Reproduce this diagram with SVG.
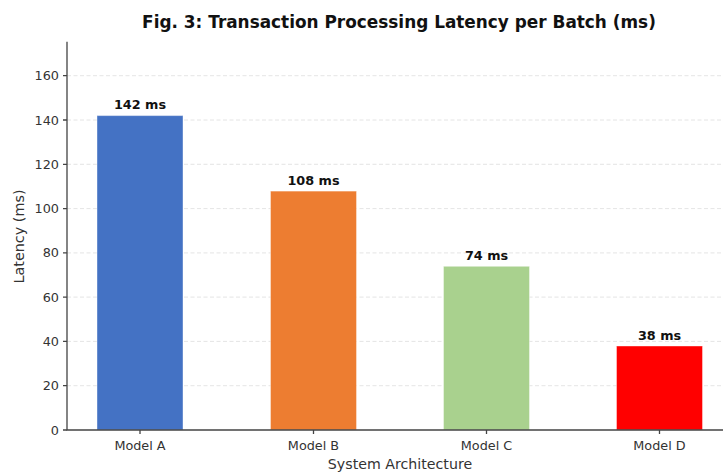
<svg xmlns="http://www.w3.org/2000/svg" width="723" height="473" viewBox="0 0 723 473">
<style>
text{font-family:"DejaVu Sans","Liberation Sans",sans-serif;fill:#222}
.tick{font-size:12.8px;fill:#333}
.val{font-size:12.8px;font-weight:bold;fill:#111}
.grid{stroke:#ddd;stroke-width:0.8;stroke-dasharray:4 2.5}
.axis{stroke:#444;stroke-width:1.3;fill:none}
.bar{stroke:#ffffff;stroke-opacity:0.4;stroke-width:1}
</style>
<rect width="723" height="473" fill="#fff"/>
<text x="399" y="28" text-anchor="middle" style="font-size:16.9px;font-weight:bold;fill:#111">Fig. 3: Transaction Processing Latency per Batch (ms)</text>
<g id="grid">
<line class="grid" x1="67" y1="385.7" x2="723" y2="385.7"/>
<line class="grid" x1="67" y1="341.4" x2="723" y2="341.4"/>
<line class="grid" x1="67" y1="297.1" x2="723" y2="297.1"/>
<line class="grid" x1="67" y1="252.9" x2="723" y2="252.9"/>
<line class="grid" x1="67" y1="208.6" x2="723" y2="208.6"/>
<line class="grid" x1="67" y1="164.3" x2="723" y2="164.3"/>
<line class="grid" x1="67" y1="120" x2="723" y2="120"/>
<line class="grid" x1="67" y1="75.7" x2="723" y2="75.7"/>
</g>
<g id="bar-a"><rect class="bar" x="97" y="115.6" width="86" height="314.4" fill="#4472C4"/><text class="val" x="140" y="109" text-anchor="middle">142 ms</text></g>
<g id="bar-b"><rect class="bar" x="270.5" y="191.1" width="86" height="238.9" fill="#ED7D31"/><text class="val" x="313.5" y="185" text-anchor="middle">108 ms</text></g>
<g id="bar-c"><rect class="bar" x="443.5" y="266.3" width="86" height="163.7" fill="#A9D18E"/><text class="val" x="486.5" y="260" text-anchor="middle">74 ms</text></g>
<g id="bar-d"><rect class="bar" x="616.5" y="346" width="86" height="84" fill="#FF0000"/><text class="val" x="659.5" y="340" text-anchor="middle">38 ms</text></g>
<g id="axes">
<path class="axis" d="M67 41.7V430H723"/>
<path class="axis" d="M63 430H67M63 385.7H67M63 341.4H67M63 297.1H67M63 252.9H67M63 208.6H67M63 164.3H67M63 120H67M63 75.7H67M140 430V434M313.5 430V434M486.5 430V434M659.5 430V434"/>
</g>
<g id="yticks" text-anchor="end">
<text class="tick" x="59" y="434.5">0</text>
<text class="tick" x="59" y="390.2">20</text>
<text class="tick" x="59" y="345.9">40</text>
<text class="tick" x="59" y="301.6">60</text>
<text class="tick" x="59" y="257.4">80</text>
<text class="tick" x="59" y="213.1">100</text>
<text class="tick" x="59" y="168.8">120</text>
<text class="tick" x="59" y="124.5">140</text>
<text class="tick" x="59" y="80.2">160</text>
</g>
<g id="xticks" text-anchor="middle">
<text class="tick" x="140" y="450">Model A</text>
<text class="tick" x="313.5" y="450">Model B</text>
<text class="tick" x="486.5" y="450">Model C</text>
<text class="tick" x="659.5" y="450">Model D</text>
</g>
<text x="400" y="469" text-anchor="middle" style="font-size:14.2px;fill:#333">System Architecture</text>
<text transform="translate(24 236.5) rotate(-90)" text-anchor="middle" style="font-size:14.4px;fill:#333">Latency (ms)</text>
</svg>
